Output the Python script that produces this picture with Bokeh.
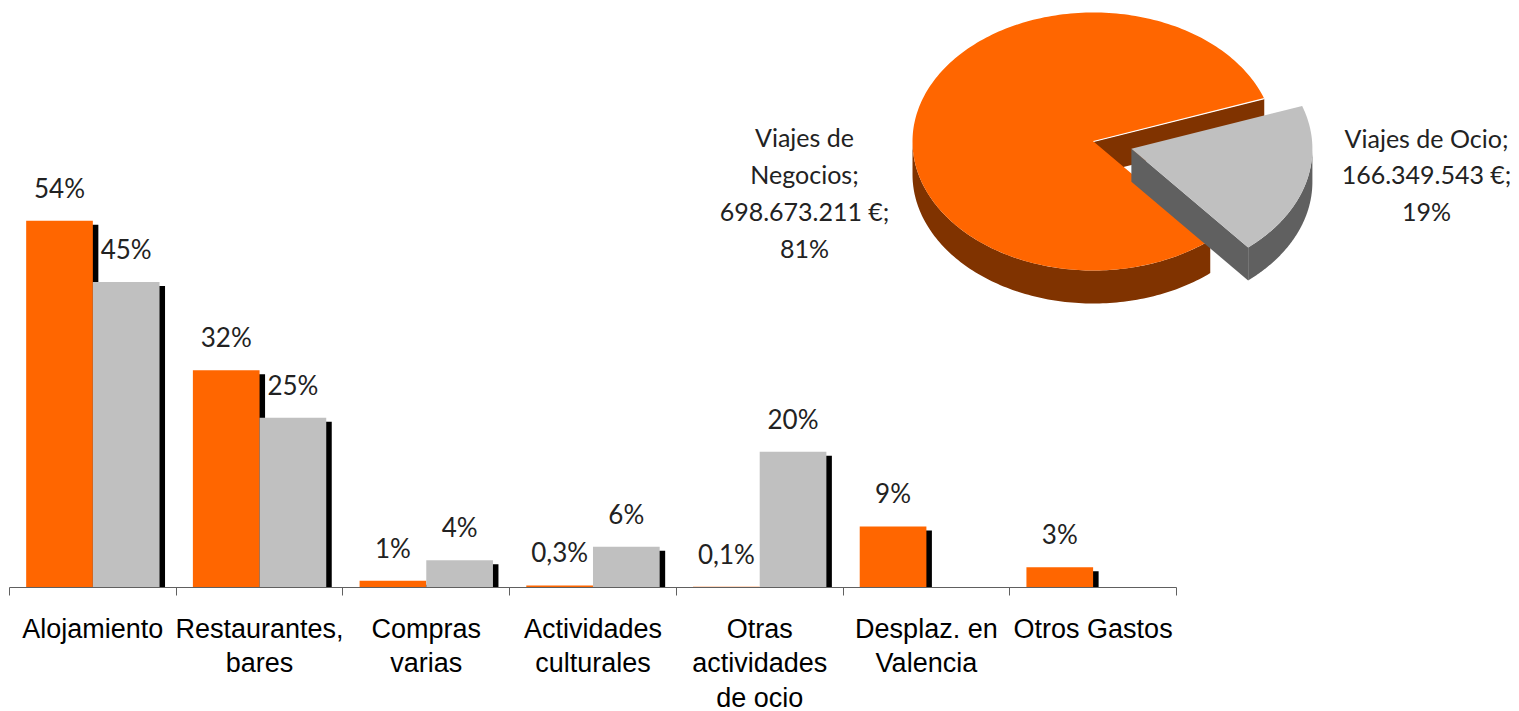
import numpy as np
from bokeh.plotting import figure
from bokeh.models import Range1d, FixedTicker, ColumnDataSource
from bokeh.core.properties import value
from bokeh.embed import file_html
from bokeh.resources import INLINE

# ---------------- data ----------------
categories = ["Alojamiento", "Restaurantes,\nbares", "Compras\nvarias",
              "Actividades\nculturales", "Otras\nactividades\nde ocio",
              "Desplaz. en\nValencia", "Otros Gastos"]
negocios = [54, 32, 1, 0.3, 0.1, 9, 3]
ocio = [45, 25, 4, 6, 20, 0, 0]
labels_negocios = ["54%", "32%", "1%", "0,3%", "0,1%", "9%", "3%"]
labels_ocio = ["45%", "25%", "4%", "6%", "20%", "", ""]

pie_names = ["Viajes de\nNegocios", "Viajes de Ocio"]
pie_values = [698673211, 166349543]

# ---------------- layout / style ----------------
FW, FH = 1510, 587
PX_PER_CAT = 166.71
PX_PER_PCT = 6.79
BAR_W = 0.4
ORANGE = "#FF6600"
GRAY = "#C0C0C0"
SH_DX = 5.5 / PX_PER_CAT
SH_DY = 4 / PX_PER_PCT

x_start = -0.5 - 9 / PX_PER_CAT
x_end = x_start + FW / PX_PER_CAT
y_end = FH / PX_PER_PCT

p = figure(frame_width=FW, frame_height=FH, output_backend="svg", toolbar_location=None,
           x_range=Range1d(x_start, x_end), y_range=Range1d(0, y_end),
           y_axis_location=None, min_border_left=0, min_border_right=0,
           min_border_top=0, min_border_bottom=0)
p.grid.visible = False
p.outline_line_color = None
p.extra_x_ranges = {"px": Range1d(0, FW)}
p.extra_y_ranges = {"py": Range1d(FH, 0)}

idx = np.arange(len(categories))
src = ColumnDataSource(dict(
    xo=idx - BAR_W / 2, xg=idx + BAR_W / 2,
    xos=idx - BAR_W / 2 + SH_DX, xgs=idx + BAR_W / 2 + SH_DX,
    neg=negocios, oc=ocio,
    negs=[max(v - SH_DY, 0) for v in negocios],
    ocs=[max(v - SH_DY, 0) for v in ocio],
    ln=labels_negocios, lo=labels_ocio,
))

# shadows
p.vbar(x="xos", top="negs", bottom=0, width=BAR_W, source=src, fill_color="black", line_color=None)
p.vbar(x="xgs", top="ocs", bottom=0, width=BAR_W, source=src, fill_color="black", line_color=None)
# bars
p.vbar(x="xo", top="neg", bottom=0, width=BAR_W, source=src, fill_color=ORANGE, line_color=None)
p.vbar(x="xg", top="oc", bottom=0, width=BAR_W, source=src, fill_color=GRAY, line_color=None)

# data labels
for xcol, ycol, tcol in (("xo", "neg", "ln"), ("xg", "oc", "lo")):
    p.text(x=xcol, y=ycol, text=tcol, source=src, text_font=value("Lato"),
           text_font_size="26px", text_color="#222222", text_align="center",
           text_baseline="middle", y_offset=-33)

# x axis
ax = p.xaxis[0]
ax.ticker = FixedTicker(ticks=list(range(len(categories))),
                        minor_ticks=[i - 0.5 for i in range(len(categories) + 1)])
ax.major_label_overrides = {i: c for i, c in enumerate(categories)}
ax.bounds = (-0.5, len(categories) - 0.5)
ax.axis_line_color = "#606060"
ax.major_tick_line_color = None
ax.major_tick_out = 0
ax.major_tick_in = 0
ax.minor_tick_line_color = "#606060"
ax.minor_tick_out = 8
ax.minor_tick_in = 0
ax.major_label_text_font = "Liberation Sans"
ax.major_label_text_font_size = "27px"
ax.major_label_text_color = "black"
ax.major_label_text_line_height = 1.15
ax.major_label_standoff = 18

# ---------------- 3D pie ----------------
cx, cy, rx, ry, depth = 1093, 141, 181, 129, 33
explode = 0.217
start_deg = 19.4
tops = [ORANGE, GRAY]
sides = ["#803300", "#606060"]

total = float(sum(pie_values))
fracs = [v / total for v in pie_values]


def pt(ccx, ccy, t):
    return ccx + rx * np.cos(t), ccy - ry * np.sin(t)


a = start_deg
for i, f in enumerate(fracs):
    b = a + 360 * f
    mid = np.radians((a + b) / 2)
    off = explode if i == 1 else 0.0
    ccx = cx + off * rx * np.cos(mid)
    ccy = cy - off * ry * np.sin(mid)
    ra, rb = np.radians(a), np.radians(b)
    # radial walls facing the viewer
    if np.cos(ra) > 0:
        x1, y1 = pt(ccx, ccy, ra)
        p.patch([ccx, x1, x1, ccx], [ccy, y1, y1 + depth, ccy + depth],
                x_range_name="px", y_range_name="py", fill_color=sides[i], line_color=None)
    if np.cos(rb) < 0:
        x1, y1 = pt(ccx, ccy, rb)
        p.patch([ccx, x1, x1, ccx], [ccy, y1, y1 + depth, ccy + depth],
                x_range_name="px", y_range_name="py", fill_color=sides[i], line_color=None)
    # front rim side
    for lo, hi in ((180, 360), (540, 720)):
        s, e = max(a, lo), min(b, hi)
        if e > s:
            t = np.radians(np.linspace(s, e, 120))
            xs, ys = pt(ccx, ccy, t)
            px_ = np.concatenate([xs, xs[::-1]])
            py_ = np.concatenate([ys, (ys + depth)[::-1]])
            p.patch(px_, py_, x_range_name="px", y_range_name="py",
                    fill_color=sides[i], line_color=None)
    # top face
    t = np.radians(np.linspace(a, b, 240))
    xs, ys = pt(ccx, ccy, t)
    p.patch(np.concatenate([[ccx], xs]), np.concatenate([[ccy], ys]),
            x_range_name="px", y_range_name="py", fill_color=tops[i], line_color=None)
    if i == 0:
        x1, y1 = pt(ccx, ccy, ra)
        p.line([ccx, x1], [ccy, y1], x_range_name="px", y_range_name="py",
               line_color="white", line_width=1.2)
    a = b


def fmt_eur(v):
    return f"{v:,}".replace(",", ".") + " €"


pie_labels = [
    f"{pie_names[0]};\n{fmt_eur(pie_values[0])};\n{round(fracs[0] * 100)}%",
    f"{pie_names[1]};\n{fmt_eur(pie_values[1])};\n{round(fracs[1] * 100)}%",
]
lsrc = ColumnDataSource(dict(x=[804, 1426], y=[192, 174], t=pie_labels))
p.text(x="x", y="y", text="t", source=lsrc, x_range_name="px", y_range_name="py",
       text_font=value("Lato"), text_font_size="25px", text_color="#222222",
       text_align="center", text_baseline="middle", text_line_height=1.23)

open("out.html", "w").write(file_html(p, INLINE))
